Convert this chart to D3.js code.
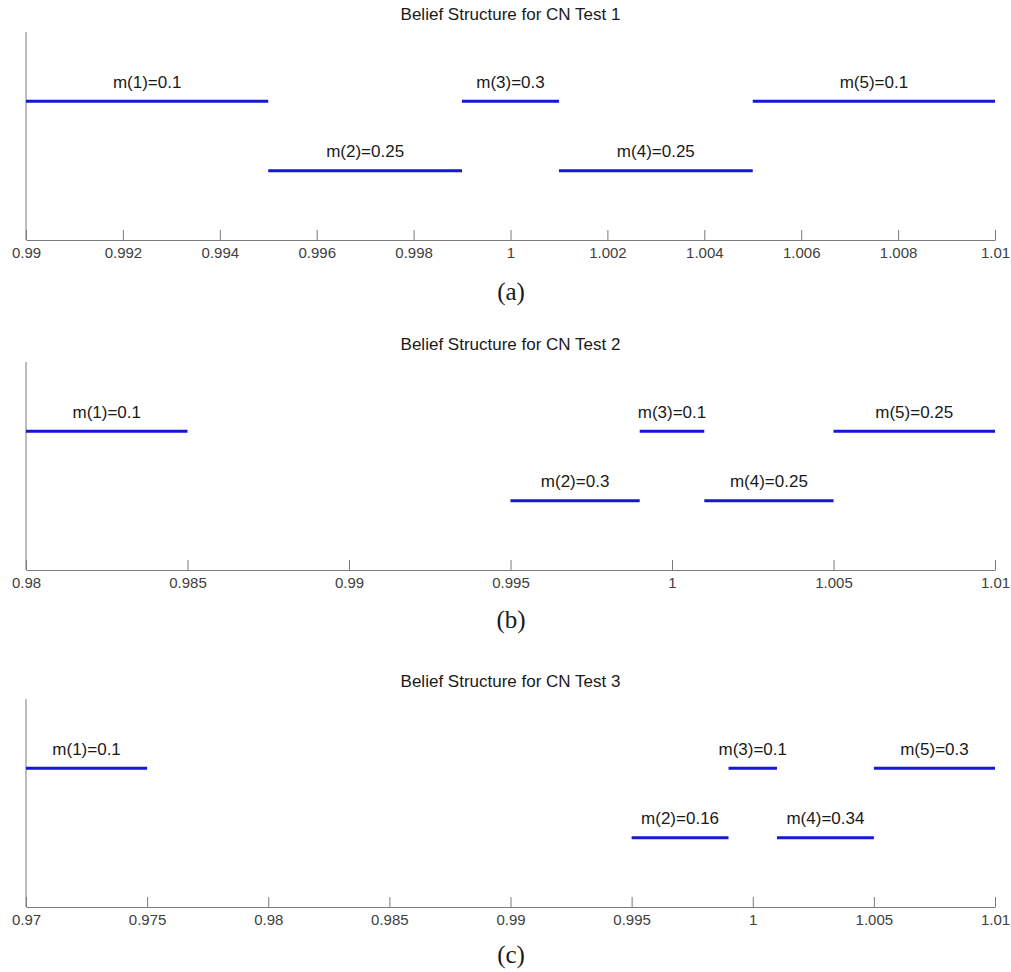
<!DOCTYPE html>
<html>
<head>
<meta charset="utf-8">
<script src="https://cdn.jsdelivr.net/npm/d3@7"></script>
<style>
  body { margin: 0; background: #fff; }
</style>
</head>
<body>
<div id="chart"></div>
<script>

// panel titles and captions
const titles = ["Belief Structure for CN Test 1", "Belief Structure for CN Test 2", "Belief Structure for CN Test 3"]
const captions = ["(a)", "(b)", "(c)"]

// x domains
const domainA = [0.99, 1.01]
const domainB = [0.98, 1.01]
const domainC = [0.97, 1.01]

// tick values and labels
const ticksA = [0.99, 0.992, 0.994, 0.996, 0.998, 1, 1.002, 1.004, 1.006, 1.008, 1.01]
const tickLabelsA = ["0.99", "0.992", "0.994", "0.996", "0.998", "1", "1.002", "1.004", "1.006", "1.008", "1.01"]
const ticksB = [0.98, 0.985, 0.99, 0.995, 1, 1.005, 1.01]
const tickLabelsB = ["0.98", "0.985", "0.99", "0.995", "1", "1.005", "1.01"]
const ticksC = [0.97, 0.975, 0.98, 0.985, 0.99, 0.995, 1, 1.005, 1.01]
const tickLabelsC = ["0.97", "0.975", "0.98", "0.985", "0.99", "0.995", "1", "1.005", "1.01"]

// focal elements: interval bounds and masses
const lowA = [0.99, 0.995, 0.999, 1.001, 1.005]
const highA = [0.995, 0.999, 1.001, 1.005, 1.01]
const massA = [0.1, 0.25, 0.3, 0.25, 0.1]

const lowB = [0.98, 0.995, 0.999, 1.001, 1.005]
const highB = [0.985, 0.999, 1.001, 1.005, 1.01]
const massB = [0.1, 0.3, 0.1, 0.25, 0.25]

const lowC = [0.97, 0.995, 0.999, 1.001, 1.005]
const highC = [0.975, 0.999, 1.001, 1.005, 1.01]
const massC = [0.1, 0.16, 0.1, 0.34, 0.3]

// row each focal element sits on (2 = upper, 1 = lower)
const rows = [2, 1, 2, 1, 2]

const panels = [
  { domain: domainA, ticks: ticksA, tickLabels: tickLabelsA, low: lowA, high: highA, mass: massA },
  { domain: domainB, ticks: ticksB, tickLabels: tickLabelsB, low: lowB, high: highB, mass: massB },
  { domain: domainC, ticks: ticksC, tickLabels: tickLabelsC, low: lowC, high: highC, mass: massC },
]

// layout
const width = 1011
const height = 972
const left = 26
const right = 995
const plotHeight = 208
const panelTops = [32, 362, 699]
const captionOffsets = [60, 58, 56]

const sans = "'Liberation Sans', Arial, Helvetica, sans-serif"
const serif = "'Liberation Serif', 'Times New Roman', serif"

const svg = d3.select("#chart")
  .append("svg")
    .attr("width", width)
    .attr("height", height)

panels.forEach((p, k) => {
  const top = panelTops[k]

  const xScale = d3.scaleLinear()
    .domain(p.domain)
    .range([left, right])

  const yScale = d3.scaleLinear()
    .domain([0, 3])
    .range([top + plotHeight, top])

  const g = svg.append("g")

  // title
  g.append("text")
    .attr("x", (left + right) / 2)
    .attr("y", top - 12)
    .attr("text-anchor", "middle")
    .style("font-family", sans)
    .style("font-size", "17px")
    .style("fill", "#1a1a1a")
    .text(titles[k])

  // y axis line only
  g.append("line")
    .attr("x1", left)
    .attr("x2", left)
    .attr("y1", yScale(3))
    .attr("y2", yScale(0))
    .attr("stroke", "#7a7a7a")
    .attr("stroke-width", 1)

  // x axis, ticks pointing up
  const xAxisGenerator = d3.axisBottom(xScale)
    .tickValues(p.ticks)
    .tickFormat((d, i) => p.tickLabels[i])
    .tickSizeInner(-10)
    .tickSizeOuter(0)
    .tickPadding(7)

  const xAxis = g.append("g")
    .attr("transform", `translate(0, ${yScale(0)})`)
    .call(xAxisGenerator)

  xAxis.select(".domain")
    .attr("stroke", "#7a7a7a")
  xAxis.selectAll(".tick line")
    .attr("stroke", "#7a7a7a")
  xAxis.selectAll(".tick text")
    .attr("y", 7)
    .style("font-family", sans)
    .style("font-size", "15px")
    .style("fill", "#404040")

  // focal element segments
  const items = p.low.map((lo, i) => ({ lo: lo, hi: p.high[i], m: p.mass[i], row: rows[i], n: i + 1 }))

  g.selectAll("line.seg")
    .data(items)
    .join("line")
      .attr("class", "seg")
      .attr("x1", d => xScale(d.lo))
      .attr("x2", d => xScale(d.hi))
      .attr("y1", d => yScale(d.row))
      .attr("y2", d => yScale(d.row))
      .attr("stroke", "#1616d6")
      .attr("stroke-width", 3)

  g.selectAll("text.lab")
    .data(items)
    .join("text")
      .attr("class", "lab")
      .attr("x", d => (xScale(d.lo) + xScale(d.hi)) / 2)
      .attr("y", d => yScale(d.row) - 13.5)
      .attr("text-anchor", "middle")
      .style("font-family", sans)
      .style("font-size", "17px")
      .style("fill", "#1a1a1a")
      .text(d => `m(${d.n})=${d.m}`)

  // caption
  g.append("text")
    .attr("x", 511)
    .attr("y", yScale(0) + captionOffsets[k])
    .attr("text-anchor", "middle")
    .style("font-family", serif)
    .style("font-size", "25px")
    .style("fill", "#1a1a1a")
    .text(captions[k])
})

</script>
</body>
</html>
